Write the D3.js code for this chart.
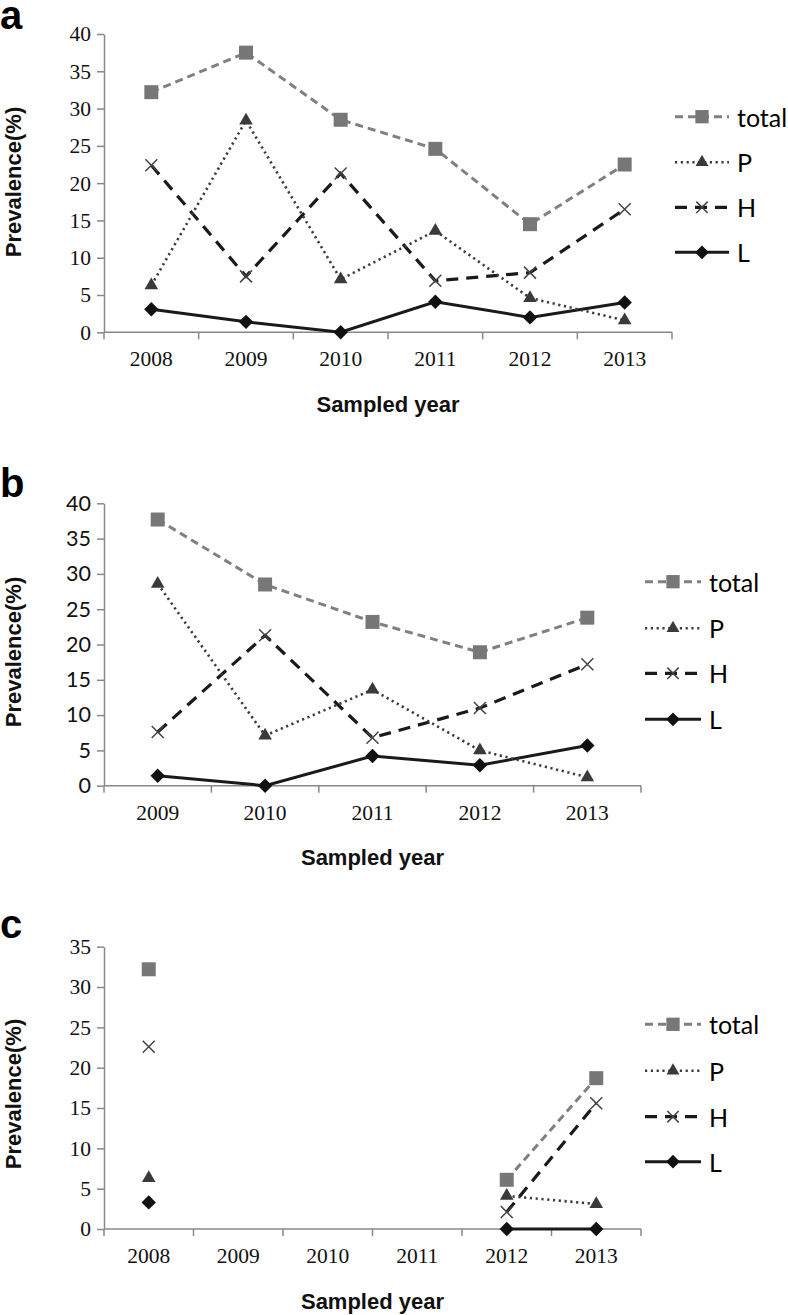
<!DOCTYPE html>
<html><head><meta charset="utf-8">
<script src="https://cdn.jsdelivr.net/npm/d3@7"></script>
<style>body{margin:0;background:#fff}svg{display:block}</style>
</head><body>
<svg id="chart" width="788" height="1315"></svg>
<script>
// ---- data ----
const seriesNames = ["total", "P", "H", "L"];
const yearsA = ["2008","2009","2010","2011","2012","2013"];
const totalA = [32.2, 37.5, 28.5, 24.6, 14.5, 22.5];
const pA     = [6.3, 28.4, 7.1, 13.6, 4.6, 1.6];
const hA     = [22.4, 7.5, 21.3, 6.9, 8.0, 16.5];
const lA     = [3.1, 1.4, 0, 4.1, 2.0, 4.0];

const yearsB = ["2009","2010","2011","2012","2013"];
const totalB = [37.7, 28.5, 23.2, 18.9, 23.8];
const pB     = [28.6, 7.1, 13.6, 5.0, 1.2];
const hB     = [7.6, 21.3, 6.8, 11.0, 17.2];
const lB     = [1.4, 0, 4.2, 2.9, 5.7];

const yearsC = ["2008","2009","2010","2011","2012","2013"];
const totalC = [32.2, null, null, null, 6.1, 18.7];
const pC     = [6.3, null, null, null, 4.1, 3.1];
const hC     = [22.6, null, null, null, 2.1, 15.6];
const lC     = [3.3, null, null, null, 0, 0];

const yTicksAB = [0,5,10,15,20,25,30,35,40];
const yTicksC  = [0,5,10,15,20,25,30,35];

// ---- styles ----
const styles = {
  total: {stroke:"#808080", width:3, dash:"8,5", marker:"square", fill:"#777"},
  P:     {stroke:"#3c3c3c", width:2.6, dash:"2.2,3.6", marker:"triangle", fill:"#3a3a3a"},
  H:     {stroke:"#1a1a1a", width:3.2, dash:"12,8", marker:"cross", fill:"#444"},
  L:     {stroke:"#1a1a1a", width:3, dash:null, marker:"diamond", fill:"#111"}
};

const svg = d3.select("#chart");
const SERIF = "'Liberation Serif','Times New Roman',serif";
const SANS = "'Liberation Sans',Arial,sans-serif";
const LEG = "Lato,'Open Sans',sans-serif";

function drawMarker(g, type, x, y, scale) {
  const s = scale || 1;
  const st = styles[type];
  if (st.marker === "cross") {
    const r = 6 * s;
    g.append("path")
      .attr("d", `M${x-r},${y-r}L${x+r},${y+r}M${x-r},${y+r}L${x+r},${y-r}`)
      .attr("stroke", st.fill).attr("stroke-width", 1.5).attr("fill", "none");
    return;
  }
  if (st.marker === "diamond") {
    const r = 7.2 * s;
    g.append("path")
      .attr("d", `M${x},${y-r}L${x+r},${y}L${x},${y+r}L${x-r},${y}Z`)
      .attr("fill", st.fill);
    return;
  }
  let sym, size;
  if (st.marker === "square") { sym = d3.symbolSquare; size = 14*14*s*s; }
  if (st.marker === "triangle") { sym = d3.symbolTriangle; size = 80*s*s; }
  g.append("path").attr("d", d3.symbol(sym, size)())
    .attr("transform", `translate(${x},${y})`).attr("fill", st.fill);
}

function drawPanel(cfg) {
  const g = svg.append("g");
  const x = d3.scaleBand().domain(cfg.years).range([cfg.x0, cfg.x1]).padding(0);
  const y = d3.scaleLinear().domain([0, cfg.ymax]).range([cfg.yBottom, cfg.yTop]);
  const cx = d => x(d) + x.bandwidth()/2;

  // y axis
  const yAxis = d3.axisLeft(y).tickValues(cfg.yTicks).tickSize(7).tickSizeOuter(0).tickPadding(6);
  const ya = g.append("g").attr("transform", `translate(${cfg.x0},0)`).call(yAxis);
  ya.select(".domain").attr("stroke", "#888").attr("stroke-width", 1.5);
  ya.selectAll(".tick line").attr("stroke", "#888").attr("stroke-width", 1.5);
  ya.selectAll(".tick text").attr("fill", "#111")
    .style("font-family", cfg.yFont).style("font-size", cfg.yFontSize + "px");

  // x axis (ticks between categories)
  const xa = g.append("g");
  xa.append("line").attr("x1", cfg.x0).attr("x2", cfg.x1)
    .attr("y1", cfg.yBottom).attr("y2", cfg.yBottom)
    .attr("stroke", "#888").attr("stroke-width", 1.5);
  const edges = cfg.years.map(d => x(d)).concat([cfg.x1]);
  xa.selectAll("line.tk").data(edges).enter().append("line").attr("class","tk")
    .attr("x1", d => d).attr("x2", d => d)
    .attr("y1", cfg.yBottom).attr("y2", cfg.yBottom + 7)
    .attr("stroke", "#888").attr("stroke-width", 1.5);
  xa.selectAll("text").data(cfg.years).enter().append("text")
    .attr("x", d => cx(d)).attr("y", cfg.yBottom + 34)
    .attr("text-anchor", "middle").attr("fill", "#111")
    .style("font-family", SERIF).style("font-size", "21.5px").text(d => d);

  // axis titles
  g.append("text").attr("x", (cfg.x0 + cfg.x1)/2).attr("y", cfg.yBottom + 72)
    .attr("text-anchor", "middle").attr("dominant-baseline", "central")
    .style("font-family", SANS).style("font-weight", "bold").style("font-size", "22px")
    .attr("fill", "#111").text("Sampled year");
  g.append("text").attr("transform", `translate(13,${cfg.yLabelY}) rotate(-90)`)
    .attr("text-anchor", "middle").attr("dominant-baseline", "central")
    .style("font-family", SANS).style("font-weight", "bold").style("font-size", "22px")
    .attr("fill", "#111").text("Prevalence(%)");

  // panel letter
  g.append("text").attr("x", 0).attr("y", cfg.letterY)
    .style("font-family", SANS).style("font-weight", "bold").style("font-size", "40px")
    .attr("fill", "#000").text(cfg.letter);

  // series
  const order = ["L", "H", "P", "total"];
  order.forEach(name => {
    const vals = cfg.data[name];
    const pts = cfg.years.map((yr, i) => ({yr, v: vals[i]}));
    const line = d3.line().defined(d => d.v !== null)
      .x(d => cx(d.yr)).y(d => y(d.v));
    const st = styles[name];
    g.append("path").attr("d", line(pts)).attr("fill", "none")
      .attr("stroke", st.stroke).attr("stroke-width", st.width)
      .attr("stroke-dasharray", st.dash);
  });
  order.forEach(name => {
    const vals = cfg.data[name];
    cfg.years.forEach((yr, i) => {
      if (vals[i] !== null) drawMarker(g, name, cx(yr), y(vals[i]));
    });
  });

  // legend
  const lg = g.append("g");
  seriesNames.forEach((name, i) => {
    const ry = cfg.legendY[i];
    const st = styles[name];
    lg.append("line").attr("x1", cfg.legX0).attr("x2", cfg.legX1)
      .attr("y1", ry).attr("y2", ry)
      .attr("stroke", st.stroke).attr("stroke-width", st.width)
      .attr("stroke-dasharray", st.dash);
    drawMarker(lg, name, (cfg.legX0 + cfg.legX1)/2, ry, 0.95);
    lg.append("text").attr("x", cfg.legX1 + 8).attr("y", ry)
      .attr("dominant-baseline", "central")
      .style("font-family", LEG).style("font-size", "25px").attr("fill", "#000")
      .text(name);
  });
}

drawPanel({
  letter: "a", letterY: 29,
  years: yearsA, x0: 104, x1: 672, yTop: 34, yBottom: 332.3, ymax: 40,
  yTicks: yTicksAB, yFont: SERIF, yFontSize: 21.5, yLabelY: 182,
  data: {total: totalA, P: pA, H: hA, L: lA},
  legendY: [116.7, 162.3, 207.3, 252.3], legX0: 675, legX1: 729
});
drawPanel({
  letter: "b", letterY: 497,
  years: yearsB, x0: 104, x1: 641, yTop: 503.3, yBottom: 785.7, ymax: 40,
  yTicks: yTicksAB, yFont: LEG, yFontSize: 21.5, yLabelY: 652,
  data: {total: totalB, P: pB, H: hB, L: lB},
  legendY: [581.7, 628.3, 673.3, 719.3], legX0: 645, legX1: 701
});
drawPanel({
  letter: "c", letterY: 938,
  years: yearsC, x0: 104, x1: 641, yTop: 946.7, yBottom: 1229, ymax: 35,
  yTicks: yTicksC, yFont: SERIF, yFontSize: 21.5, yLabelY: 1094,
  data: {total: totalC, P: pC, H: hC, L: lC},
  legendY: [1024.3, 1070.7, 1116.7, 1161.7], legX0: 645, legX1: 701
});
</script>
</body></html>
